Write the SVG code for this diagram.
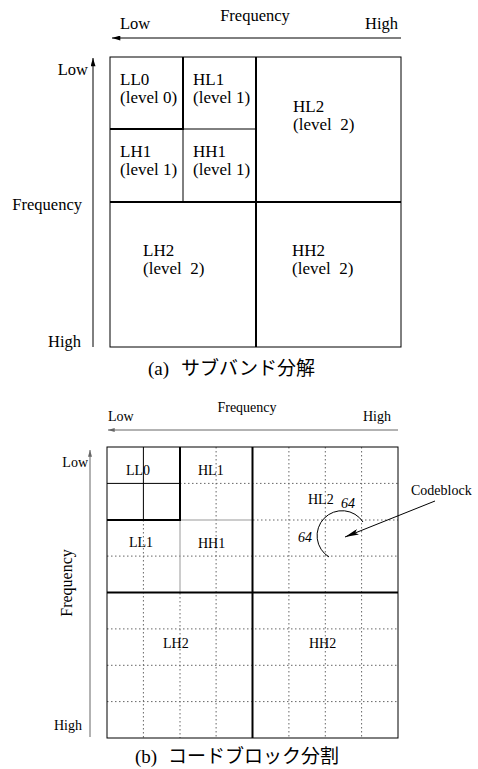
<svg xmlns="http://www.w3.org/2000/svg" width="478" height="769" viewBox="0 0 478 769">
<defs>
<marker id="ah" viewBox="0 0 10 6" refX="10" refY="3" markerWidth="9" markerHeight="5" orient="auto" markerUnits="userSpaceOnUse"><path d="M0,0 L10,3 L0,6 z" fill="#000"/></marker>
<marker id="ahg" viewBox="0 0 10 6" refX="10" refY="3" markerWidth="8" markerHeight="4" orient="auto" markerUnits="userSpaceOnUse"><path d="M0,0 L10,3 L0,6 z" fill="#666"/></marker>
<marker id="ahb" viewBox="0 0 14 6" refX="14" refY="3" markerWidth="14" markerHeight="6" orient="auto" markerUnits="userSpaceOnUse"><path d="M0,0 L14,3 L0,6 L3,3 z" fill="#000"/></marker>
</defs>
<style>
text{font-family:"Liberation Serif","Times New Roman",serif;fill:#000;white-space:pre}
.ax{font-size:16.5px}
.c{font-size:17px}
.s{font-size:14px}
.it{font-style:italic;font-size:14px}
.cap{font-size:19px}
.jp{font-family:"Noto Sans CJK JP","Noto Sans CJK SC",sans-serif}
.thin{stroke:#000;stroke-width:1;fill:none}
.thick{stroke:#000;stroke-width:2;fill:none}
.gl{stroke:#999;stroke-width:1;fill:none}
.dot{stroke:#666;stroke-width:1;stroke-dasharray:1.5 2.5;fill:none}
</style>

<!-- (a) subband decomposition -->
<g id="a-axes">
<text class="ax" x="255" y="21" text-anchor="middle">Frequency</text>
<text class="ax" x="120" y="29">Low</text>
<text class="ax" x="398" y="29" text-anchor="end">High</text>
<text class="ax" x="88" y="75" text-anchor="end">Low</text>
<text class="ax" x="82" y="210" text-anchor="end">Frequency</text>
<text class="ax" x="81" y="347" text-anchor="end">High</text>
</g>
<g id="a-frame">
<rect class="thin" x="110" y="57" width="291" height="290"/>
<line class="thick" x1="256" y1="57" x2="256" y2="347"/>
<line class="thick" x1="110" y1="202" x2="401" y2="202"/>
<path class="thick" d="M183,57 V129 H110"/>
<line class="thin" x1="183" y1="129" x2="183" y2="202" stroke="#555"/>
<line class="thin" x1="183" y1="129" x2="256" y2="129" stroke="#555"/>
</g>
<g id="a-LL0"><text class="c" x="120" y="85">LL0</text><text class="c" x="120" y="103">(level 0)</text></g>
<g id="a-HL1"><text class="c" x="193" y="85">HL1</text><text class="c" x="193" y="103">(level 1)</text></g>
<g id="a-LH1"><text class="c" x="120" y="157">LH1</text><text class="c" x="120" y="175">(level 1)</text></g>
<g id="a-HH1"><text class="c" x="193" y="157">HH1</text><text class="c" x="193" y="175">(level 1)</text></g>
<g id="a-HL2"><text class="c" x="293" y="112">HL2</text><text class="c" x="293" y="130">(level  2)</text></g>
<g id="a-LH2"><text class="c" x="143" y="256">LH2</text><text class="c" x="143" y="274">(level  2)</text></g>
<g id="a-HH2"><text class="c" x="292" y="256">HH2</text><text class="c" x="292" y="274">(level  2)</text></g>
<text id="a-caption" class="cap" y="375"><tspan x="148">(a)</tspan><tspan class="jp" x="181">サブバンド分解</tspan></text>

<!-- (b) code-block partition -->
<g id="b-axes">
<text class="s" x="247" y="412" text-anchor="middle">Frequency</text>
<text class="s" x="108" y="421">Low</text>
<text class="s" x="391" y="421" text-anchor="end">High</text>
<text class="s" x="88" y="467" text-anchor="end">Low</text>
<text class="s" x="82" y="730" text-anchor="end">High</text>
<text class="s" style="font-size:16px" text-anchor="middle" transform="translate(72,583) rotate(-90)">Frequency</text>
</g>
<g id="b-frame">
<path class="dot" d="M143.4,520 V738 M216.1,447 V738 M288.9,447 V738 M325.3,447 V738 M361.6,447 V738 M180,593 V738
M180,483.4 H398 M253,520 H398 M107,556.1 H398 M107,628.9 H398 M107,665.3 H398 M107,701.6 H398"/>
<path class="thin" d="M143.4,447 V520 M107,483.4 H180"/>
<path class="gl" d="M180,520 V593 M180,520 H253"/>
<rect class="thin" x="107" y="447" width="291" height="291" stroke-width="1.2"/>
<line class="thick" x1="252.5" y1="447" x2="252.5" y2="738"/>
<line class="thick" x1="107" y1="592.5" x2="398" y2="592.5"/>
<path class="thick" d="M180,447 V520 H107"/>
</g>
<g id="b-LL0"><text class="s" x="126" y="475">LL0</text></g>
<g id="b-HL1"><text class="s" x="198" y="475">HL1</text></g>
<g id="b-LL1"><text class="s" x="129" y="547">LL1</text></g>
<g id="b-HH1"><text class="s" x="198" y="548">HH1</text></g>
<g id="b-HL2"><text class="s" x="308" y="504">HL2</text></g>
<g id="b-LH2"><text class="s" x="163" y="648">LH2</text></g>
<g id="b-HH2"><text class="s" x="309" y="648">HH2</text></g>
<g id="b-codeblock">
<path class="thin" d="M329,557 A25,25 0 1 1 363,522"/>
<text class="it" x="341" y="508">64</text>
<text class="it" x="298" y="542">64</text>
</g>
<g id="b-codeblock-label"><text class="s" x="411" y="495">Codeblock</text></g>
<text id="b-caption" class="cap" y="763"><tspan x="135">(b)</tspan><tspan class="jp" x="168">コードブロック分割</tspan></text>

<g id="connectors">
<line x1="401" y1="38" x2="112" y2="38" stroke="#000" stroke-width="1" marker-end="url(#ah)"/>
<line x1="93" y1="347" x2="93" y2="58" stroke="#000" stroke-width="1" marker-end="url(#ah)"/>
<line x1="398" y1="430" x2="108" y2="430" stroke="#666" stroke-width="1" marker-end="url(#ahg)"/>
<line x1="90" y1="737" x2="90" y2="450" stroke="#666" stroke-width="1" marker-end="url(#ahg)"/>
<line x1="435" y1="501" x2="345" y2="537" stroke="#000" stroke-width="1" marker-end="url(#ahb)"/>
</g>
</svg>
